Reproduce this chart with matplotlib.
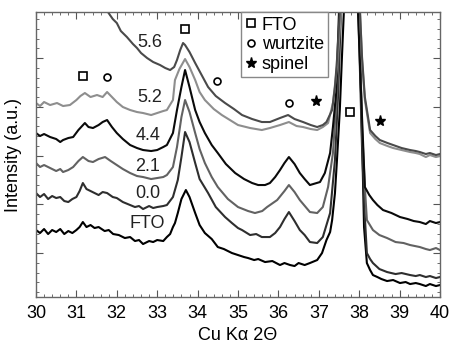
import numpy as np
import matplotlib
matplotlib.use('Agg')
import matplotlib.pyplot as plt
from matplotlib.ticker import MultipleLocator, NullFormatter
from matplotlib.lines import Line2D

plt.rcParams['font.family'] = ['Liberation Sans', 'DejaVu Sans']

# 2theta (deg) / intensity (a.u.)
x_fto = [30.00, 30.10, 30.20, 30.30, 30.40, 30.50, 30.60, 30.70, 30.80, 30.90, 31.00, 31.08, 31.16, 31.25, 31.35, 31.45,
         31.55, 31.70, 31.80, 31.91, 32.05, 32.20, 32.33, 32.45, 32.55, 32.65, 32.80, 32.90, 33.00, 33.15, 33.24,
         33.32, 33.39, 33.44, 33.51, 33.60, 33.71, 33.80, 33.94, 34.05, 34.18, 34.35, 34.50, 34.65, 34.85, 35.00,
         35.15, 35.25, 35.40, 35.50, 35.67, 35.85, 36.04, 36.15, 36.29, 36.40, 36.50, 36.65, 36.78, 36.96, 37.08,
         37.19, 37.28, 37.33, 37.40, 37.45, 37.52, 37.57, 37.62, 37.78, 38.00, 38.07, 38.12, 38.19, 38.27, 38.34,
         38.45, 38.55, 38.69, 38.84, 39.01, 39.15, 39.26, 39.40, 39.50, 39.65, 39.75, 39.90, 40.00]
y_fto = [67, 64, 68, 63, 67, 65, 68, 63, 66, 64, 67, 70, 75, 70, 72, 69,
         70, 66, 67, 63, 62, 59, 60, 56, 57, 53, 56, 55, 57, 56, 60,
         63, 70, 74, 84, 98, 107, 100, 84, 72, 64, 58, 50, 48, 44, 42,
         40, 39, 37, 38, 35, 36, 32, 34, 32, 31, 34, 32, 34, 37, 44,
         57, 65, 77, 104, 137, 187, 237, 285, 420, 285, 160, 70, 34, 27, 22,
         20, 18, 16, 17, 14, 15, 13, 14, 13, 11, 13, 11, 12]

x_00 = [30.00, 30.10, 30.20, 30.30, 30.40, 30.50, 30.60, 30.70, 30.80, 30.90, 31.00, 31.08, 31.16, 31.25, 31.35, 31.45,
        31.55, 31.65, 31.76, 31.90, 32.00, 32.15, 32.33, 32.45, 32.55, 32.65, 32.80, 32.90, 33.00, 33.15, 33.24,
        33.39, 33.51, 33.60, 33.69, 33.80, 33.94, 34.05, 34.26, 34.45, 34.68, 34.85, 35.00, 35.10, 35.30, 35.45,
        35.59, 35.79, 35.92, 36.04, 36.15, 36.26, 36.40, 36.53, 36.65, 36.78, 36.96, 37.10, 37.28, 37.40, 37.48,
        37.55, 37.78, 37.98, 38.07, 38.14, 38.19, 38.27, 38.34, 38.50, 38.69, 38.90, 39.05, 39.26, 39.40, 39.50,
        39.65, 39.75, 39.90, 40.00]
y_00 = [104, 100, 103, 98, 101, 99, 100, 96, 95, 98, 100, 106, 114, 108, 106, 104,
        102, 105, 104, 100, 99, 95, 92, 90, 91, 88, 91, 89, 90, 91, 92,
        100, 117, 140, 165, 155, 134, 118, 104, 90, 80, 74, 69, 67, 62, 63,
        60, 60, 64, 70, 78, 85, 76, 67, 62, 55, 54, 60, 84, 137, 204,
        285, 440, 285, 150, 80, 44, 38, 34, 28, 25, 23, 24, 22, 21, 22,
        20, 21, 19, 20]

x_21 = [30.00, 30.10, 30.20, 30.35, 30.50, 30.60, 30.67, 30.80, 30.92, 31.05, 31.16, 31.30, 31.41, 31.55, 31.71, 31.85,
        32.00, 32.15, 32.33, 32.50, 32.65, 32.85, 33.00, 33.15, 33.24, 33.39, 33.49, 33.60, 33.69, 33.80, 33.94,
        34.05, 34.18, 34.35, 34.50, 34.75, 35.00, 35.25, 35.42, 35.60, 35.72, 35.97, 36.15, 36.26, 36.40, 36.53,
        36.78, 36.96, 37.10, 37.23, 37.35, 37.45, 37.52, 37.78, 38.00, 38.07, 38.14, 38.19, 38.34, 38.50, 38.69,
        38.90, 39.10, 39.26, 39.50, 39.65, 39.75, 39.90, 40.00]
y_21 = [134, 130, 132, 129, 126, 128, 125, 127, 130, 136, 140, 136, 135, 138, 140, 136,
        132, 128, 124, 121, 120, 118, 119, 120, 122, 130, 150, 180, 197, 185, 164,
        148, 134, 120, 110, 98, 90, 86, 84, 86, 90, 97, 106, 112, 105, 97,
        85, 84, 90, 110, 144, 204, 285, 440, 285, 170, 110, 77, 67, 62, 59,
        55, 54, 52, 50, 48, 47, 49, 47]

x_44 = [30.00, 30.10, 30.20, 30.35, 30.50, 30.60, 30.67, 30.80, 30.92, 31.05, 31.21, 31.30, 31.41, 31.55, 31.65, 31.76,
        31.88, 32.00, 32.15, 32.33, 32.50, 32.65, 32.85, 33.00, 33.15, 33.24, 33.39, 33.49, 33.60, 33.69, 33.80,
        33.94, 34.05, 34.18, 34.35, 34.50, 34.70, 34.93, 35.15, 35.35, 35.50, 35.67, 35.79, 35.92, 36.04, 36.15,
        36.26, 36.40, 36.53, 36.65, 36.78, 37.03, 37.15, 37.28, 37.35, 37.43, 37.50, 37.78, 37.97, 38.05, 38.14,
        38.25, 38.34, 38.45, 38.59, 38.80, 39.01, 39.20, 39.35, 39.50, 39.65, 39.75, 39.90, 40.00]
y_44 = [164, 161, 163, 160, 158, 155, 157, 159, 160, 167, 174, 170, 169, 172, 175, 177,
        170, 164, 158, 152, 149, 147, 146, 147, 150, 152, 164, 187, 210, 227, 210,
        187, 175, 164, 152, 144, 133, 124, 118, 114, 112, 112, 114, 120, 127, 134,
        140, 133, 124, 118, 112, 115, 124, 144, 170, 204, 285, 450, 285, 200, 110,
        102, 97, 92, 87, 84, 80, 78, 76, 75, 73, 76, 74, 75]

x_52 = [30.00, 30.10, 30.20, 30.35, 30.52, 30.67, 30.84, 31.00, 31.10, 31.21, 31.35, 31.51, 31.65, 31.76, 31.88, 32.00,
        32.15, 32.33, 32.50, 32.65, 32.85, 33.00, 33.15, 33.24, 33.39, 33.44, 33.55, 33.69, 33.80, 33.94, 34.05,
        34.18, 34.40, 34.60, 34.80, 35.00, 35.30, 35.59, 35.79, 36.04, 36.26, 36.45, 36.61, 36.80, 36.96, 37.10,
        37.23, 37.35, 37.45, 37.55, 37.78, 38.02, 38.07, 38.14, 38.27, 38.40, 38.51, 38.70, 38.84, 39.05, 39.26,
        39.40, 39.50, 39.65, 39.75, 39.90, 40.00]
y_52 = [194, 191, 195, 192, 194, 191, 192, 197, 201, 204, 200, 202, 200, 205, 200, 195,
        190, 187, 185, 184, 182, 184, 186, 187, 197, 217, 228, 238, 230, 217, 205,
        197, 188, 182, 177, 172, 169, 167, 169, 172, 175, 171, 170, 168, 167, 170,
        174, 194, 230, 285, 420, 285, 237, 197, 164, 158, 154, 151, 149, 147, 145,
        144, 143, 140, 142, 140, 141]

x_56 = [31.78, 31.90, 32.00, 32.10, 32.25, 32.40, 32.50, 32.60, 32.75, 32.90, 33.07, 33.20, 33.32, 33.42, 33.49, 33.57,
        33.64, 33.69, 33.80, 33.94, 34.10, 34.26, 34.45, 34.68, 34.90, 35.10, 35.35, 35.59, 35.79, 36.04, 36.24,
        36.40, 36.61, 36.80, 36.96, 37.10, 37.19, 37.33, 37.40, 37.45, 37.52, 37.78, 38.02, 38.07, 38.14, 38.27,
        38.40, 38.51, 38.70, 38.84, 39.05, 39.26, 39.40, 39.50, 39.65, 39.75, 39.90, 40.00]
y_56 = [285, 278, 274, 266, 260, 253, 249, 244, 239, 235, 232, 229, 227, 230, 237, 247,
        254, 252, 245, 234, 222, 210, 201, 194, 188, 182, 178, 175, 175, 179, 182,
        178, 175, 172, 170, 172, 175, 187, 210, 237, 285, 420, 285, 240, 200, 167,
        161, 157, 154, 152, 149, 147, 146, 145, 143, 144, 142, 143]

series = [
    (x_fto, y_fto, '#000000'),
    (x_00, y_00, '#2e2e2e'),
    (x_21, y_21, '#626262'),
    (x_44, y_44, '#0a0a0a'),
    (x_52, y_52, '#8e8e8e'),
    (x_56, y_56, '#4a4a4a'),
]

labels = ['FTO', '0.0', '2.1', '4.4', '5.2', '5.6']
label_x = [32.75, 32.77, 32.77, 32.77, 32.82, 32.82]
label_y = [74, 104, 131, 162, 200, 255]

# phase markers
fto_x = [31.16, 33.69, 37.77]
fto_y = [221, 268, 185]
wurtz_x = [31.76, 34.48, 36.26]
wurtz_y = [220, 216, 194]
spinel_x = [36.93, 38.51]
spinel_y = [196, 176]

fig = plt.figure(figsize=(4.51, 3.43), dpi=100)
ax = fig.add_axes([0.0798, 0.134, 0.8958, 0.831])

for xs, ys, c in series:
    ax.plot(xs, ys, color=c, lw=1.5)

for t, lx, ly in zip(labels, label_x, label_y):
    ax.text(lx, ly, t, fontsize=13, ha='center', va='center', color='#222222')

ax.plot(fto_x, fto_y, 's', ms=6, mfc='white', mec='black', mew=1.2, ls='none')
ax.plot(wurtz_x, wurtz_y, 'o', ms=5, mfc='white', mec='black', mew=1.2, ls='none')
ax.plot(spinel_x, spinel_y, '*', ms=8, color='black', ls='none')

ax.set_xlim(30, 40)
ax.set_ylim(0, 285)
ax.xaxis.set_major_locator(MultipleLocator(1))
ax.xaxis.set_minor_locator(MultipleLocator(0.2))
ax.yaxis.set_major_locator(MultipleLocator(48.75, offset=44))
ax.yaxis.set_minor_locator(MultipleLocator(9.75, offset=5))
ax.yaxis.set_major_formatter(NullFormatter())
ax.tick_params(which='both', direction='in', top=True, right=True, color='#555555')
ax.tick_params(which='major', length=5, labelsize=13, pad=6)
ax.tick_params(which='minor', length=2.5)
for s in ax.spines.values():
    s.set_color('#666666')
    s.set_linewidth(1.0)

ax.set_xlabel('Cu K\u03b1 2\u0398', fontsize=13, labelpad=3)
ax.set_ylabel('Intensity (a.u.)', fontsize=13, labelpad=4)

handles = [
    Line2D([], [], marker='s', ms=6, mfc='white', mec='black', mew=1.2, ls='none'),
    Line2D([], [], marker='o', ms=5, mfc='white', mec='black', mew=1.2, ls='none'),
    Line2D([], [], marker='*', ms=8, color='black', ls='none'),
]
leg = ax.legend(handles, ['FTO', 'wurtzite', 'spinel'], loc='upper left', bbox_to_anchor=(0.507, 1.0),
                borderaxespad=0, fancybox=False, fontsize=13, handlelength=0.6, handletextpad=0.3,
                labelspacing=0.15, borderpad=0.25, framealpha=1)
leg.get_frame().set_edgecolor('#888888')
leg.get_frame().set_linewidth(1.0)

fig.savefig('out.png', dpi=100)
